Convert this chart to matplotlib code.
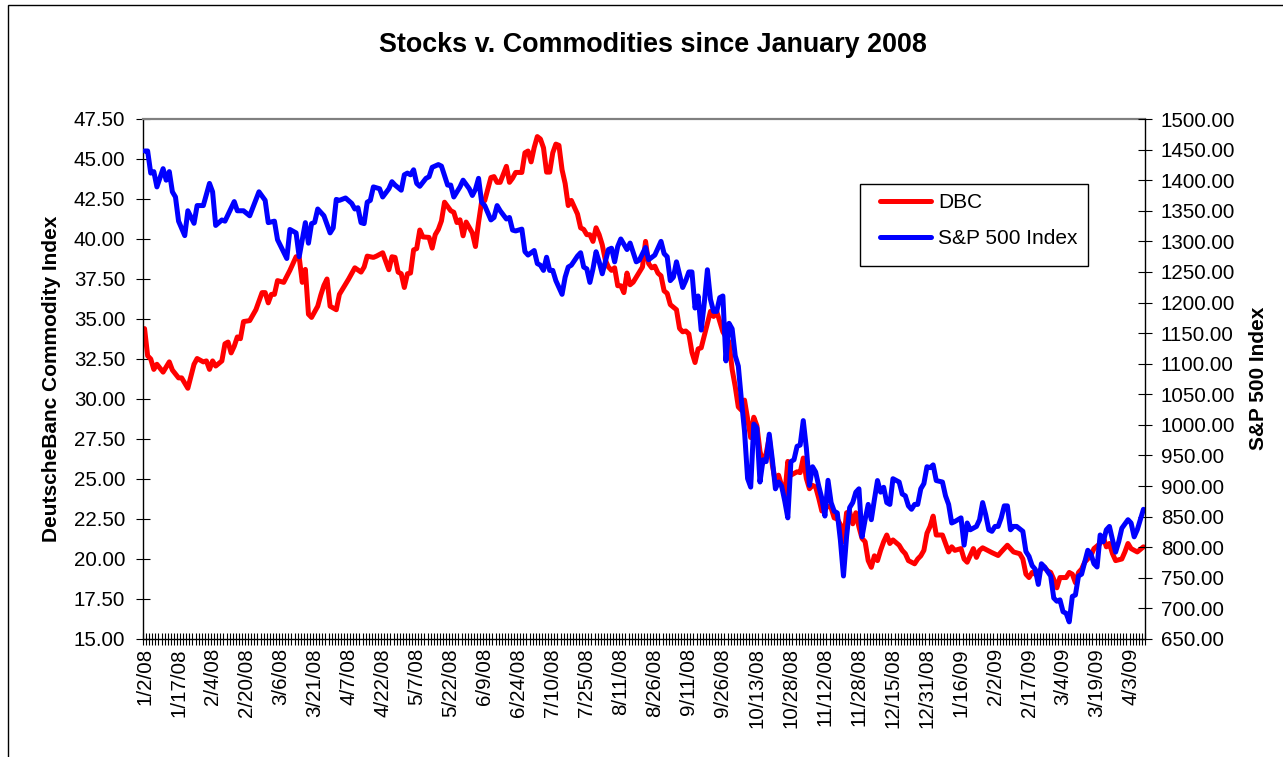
"""Stocks v. Commodities since January 2008 (DBC vs S&P 500)."""
import matplotlib
matplotlib.use("Agg")
import matplotlib.pyplot as plt
from matplotlib.lines import Line2D
from matplotlib.patches import Rectangle
from matplotlib.ticker import FormatStrFormatter
import numpy as np

plt.rcParams["font.family"] = ["Liberation Sans", "DejaVu Sans"]

TITLE = "Stocks v. Commodities since January 2008"
LEFT_LABEL = "DeutscheBanc Commodity Index"
RIGHT_LABEL = "S&P 500 Index"

N_DAYS = 324          # trading days on the category axis
LABEL_EVERY = 11      # Excel shows every 11th category label
tick_labels = [
    "1/2/08", "1/17/08", "2/4/08", "2/20/08", "3/6/08", "3/21/08", "4/7/08",
    "4/22/08", "5/7/08", "5/22/08", "6/9/08", "6/24/08", "7/10/08", "7/25/08",
    "8/11/08", "8/26/08", "9/11/08", "9/26/08", "10/13/08", "10/28/08",
    "11/12/08", "11/28/08", "12/15/08", "12/31/08", "1/16/09", "2/2/09",
    "2/17/09", "3/4/09", "3/19/09", "4/3/09",
]

# DBC close (trading day number, price)
dbc_day = [
    0, 1, 2, 3, 4, 6, 8, 9, 11, 12, 14, 16, 17, 19, 20, 21, 22, 23, 25, 26,
    27, 28, 29, 30, 31, 32, 34, 36, 38, 39, 40, 41, 42, 43, 45, 47, 49, 50,
    51, 52, 53, 54, 56, 57, 58, 59, 60, 62, 63, 64, 66, 68, 70, 71, 72, 74,
    75, 77, 79, 80, 81, 82, 83, 84, 85, 86, 87, 88, 89, 90, 92, 93, 94, 95,
    96, 97, 99, 100, 101, 102, 103, 104, 106, 107, 108, 109, 110, 112, 113,
    114, 115, 117, 118, 119, 120, 122, 123, 124, 125, 126, 127, 128, 129,
    130, 131, 132, 133, 134, 135, 136, 137, 138, 140, 141, 142, 143, 144,
    145, 146, 147, 148, 149, 150, 151, 152, 153, 154, 155, 156, 157, 158,
    160, 161, 162, 163, 164, 165, 166, 167, 168, 169, 170, 172, 173, 174,
    175, 176, 177, 178, 179, 180, 182, 183, 184, 185, 186, 187, 189, 190,
    191, 192, 193, 194, 195, 196, 197, 198, 199, 200, 201, 202, 203, 204,
    205, 206, 207, 208, 209, 211, 212, 213, 214, 215, 216, 217, 218, 219,
    221, 222, 223, 224, 225, 226, 227, 228, 229, 230, 231, 232, 233, 234,
    235, 236, 237, 238, 239, 240, 241, 242, 244, 245, 246, 247, 248, 249,
    250, 251, 252, 253, 254, 255, 256, 258, 259, 260, 261, 262, 264, 265,
    266, 268, 269, 270, 271, 272, 273, 274, 276, 277, 279, 280, 281, 283,
    284, 285, 286, 287, 288, 290, 291, 292, 293, 294, 295, 296, 298, 299,
    300, 301, 302, 303, 304, 306, 307, 309, 310, 311, 312, 313, 314, 316,
    317, 318, 319, 321, 323,
]
dbc_close = [
    34.40, 32.70, 32.50, 31.85, 32.17, 31.68, 32.32, 31.81, 31.32, 31.32,
    30.67, 32.17, 32.53, 32.32, 32.38, 31.85, 32.38, 32.06, 32.38, 33.45,
    33.56, 32.88, 33.30, 33.88, 33.77, 34.84, 34.90, 35.58, 36.65, 36.65,
    36.01, 36.54, 36.54, 37.40, 37.29, 38.04, 38.89, 38.87, 37.29, 38.10,
    35.30, 35.10, 35.80, 36.50, 37.10, 37.50, 35.80, 35.58, 36.54, 36.86,
    37.50, 38.20, 37.93, 38.25, 38.93, 38.85, 38.93, 39.14, 38.08, 38.89,
    38.85, 37.93, 37.83, 36.97, 37.83, 37.87, 39.32, 39.40, 40.56, 40.13,
    40.10, 39.43, 40.27, 40.60, 41.13, 42.30, 41.77, 41.67, 41.03, 41.20,
    40.20, 41.06, 40.38, 39.53, 41.03, 42.34, 42.40, 43.84, 43.90, 43.54,
    43.54, 44.54, 43.54, 43.80, 44.16, 44.16, 45.39, 45.50, 44.82, 45.72,
    46.40, 46.25, 45.70, 44.18, 44.18, 45.39, 45.93, 45.85, 44.33, 43.47,
    42.09, 42.41, 41.56, 40.70, 40.60, 40.27, 40.27, 39.85, 40.70, 40.27,
    39.64, 38.68, 38.25, 38.04, 38.20, 37.08, 37.08, 36.65, 37.87, 37.14,
    37.30, 37.93, 38.25, 39.85, 38.46, 38.20, 38.30, 37.87, 37.70, 36.76,
    36.60, 35.90, 35.58, 34.41, 34.20, 34.25, 34.07, 32.92, 32.28, 33.13,
    33.20, 34.73, 35.48, 35.16, 35.48, 34.84, 34.20, 33.56, 31.85, 30.78,
    29.50, 29.30, 29.93, 28.76, 27.59, 28.86, 28.33, 26.73, 25.99, 26.60,
    27.59, 25.88, 24.81, 25.24, 24.60, 23.96, 26.10, 25.24, 25.45, 25.40,
    26.31, 25.03, 24.39, 24.60, 24.50, 23.80, 23.00, 23.30, 23.20, 22.57,
    22.50, 22.15, 21.08, 22.89, 22.95, 22.20, 22.89, 22.00, 21.29, 21.08,
    19.90, 19.48, 20.20, 19.90, 20.54, 21.08, 21.50, 20.97, 21.19, 20.86,
    20.54, 20.33, 19.90, 19.80, 19.70, 20.00, 20.20, 20.54, 21.61, 22.04,
    22.68, 21.50, 21.50, 20.97, 20.44, 20.76, 20.54, 20.65, 20.00, 19.80,
    20.65, 20.10, 20.54, 20.70, 20.60, 20.50, 20.40, 20.22, 20.44, 20.86,
    20.65, 20.44, 20.33, 20.00, 19.05, 18.84, 19.16, 19.05, 19.37, 19.50,
    19.26, 19.16, 18.73, 18.20, 18.84, 18.84, 19.16, 19.05, 18.52, 19.16,
    19.37, 19.80, 20.22, 20.65, 20.97, 21.40, 20.76, 20.97, 20.33, 19.90,
    20.00, 20.44, 20.97, 20.65, 20.44, 20.76,
]

# S&P 500 close (trading day number, index level)
spx_day = [
    0, 1, 2, 3, 4, 6, 7, 8, 9, 10, 11, 13, 14, 16, 17, 19, 21, 22, 23, 25,
    26, 29, 30, 32, 34, 37, 39, 40, 42, 43, 46, 47, 49, 50, 52, 53, 54, 55,
    56, 58, 60, 61, 62, 63, 65, 67, 68, 69, 70, 71, 72, 73, 74, 76, 77, 79,
    80, 81, 83, 84, 85, 86, 87, 88, 89, 91, 92, 93, 95, 96, 98, 99, 100,
    102, 103, 105, 106, 107, 108, 109, 110, 112, 113, 114, 115, 117, 118,
    119, 120, 122, 123, 124, 126, 127, 128, 129, 130, 131, 132, 133, 135,
    136, 137, 138, 140, 141, 142, 143, 144, 145, 146, 147, 148, 150, 151,
    152, 153, 154, 156, 157, 159, 160, 162, 163, 165, 167, 168, 169, 170,
    171, 172, 174, 175, 176, 177, 178, 179, 180, 181, 182, 183, 184, 185,
    186, 187, 188, 189, 190, 191, 192, 193, 194, 195, 196, 197, 198, 199,
    200, 201, 202, 203, 204, 205, 206, 207, 208, 209, 210, 211, 212, 213,
    214, 215, 216, 217, 218, 219, 220, 221, 222, 223, 224, 225, 226, 227,
    228, 229, 230, 231, 232, 233, 234, 235, 236, 237, 238, 239, 240, 241,
    242, 244, 245, 246, 247, 248, 249, 250, 251, 252, 253, 254, 255, 256,
    258, 259, 260, 261, 262, 264, 265, 266, 267, 269, 270, 271, 272, 273,
    274, 275, 276, 277, 278, 279, 280, 281, 282, 284, 285, 286, 287, 288,
    289, 290, 291, 293, 294, 295, 296, 297, 298, 299, 300, 301, 302, 303,
    304, 305, 306, 307, 308, 309, 310, 311, 312, 313, 314, 315, 316, 318,
    319, 320, 321, 323,
]
spx_close = [
    1447.7, 1447.7, 1411.6, 1414.0, 1389.0, 1418.8, 1400.0, 1414.0, 1381.0,
    1372.5, 1333.0, 1309.4, 1350.0, 1329.5, 1358.5, 1358.5, 1394.7, 1381.0,
    1326.0, 1335.0, 1333.0, 1365.0, 1350.0, 1350.0, 1341.8, 1381.0, 1367.0,
    1330.6, 1333.0, 1302.7, 1272.0, 1319.4, 1313.8, 1274.8, 1330.6, 1297.0,
    1329.0, 1331.0, 1352.9, 1341.8, 1313.8, 1322.0, 1368.6, 1367.0, 1370.9,
    1362.0, 1352.9, 1355.0, 1330.6, 1329.0, 1364.0, 1367.0, 1389.0, 1386.0,
    1372.5, 1386.0, 1397.5, 1392.0, 1383.6, 1408.8, 1411.6, 1408.8, 1417.0,
    1394.7, 1390.0, 1403.0, 1405.6, 1421.0, 1425.5, 1423.0, 1392.0, 1392.0,
    1372.5, 1389.0, 1400.0, 1386.0, 1375.0, 1385.0, 1403.0, 1364.0, 1358.5,
    1335.0, 1339.0, 1358.5, 1350.0, 1336.6, 1339.0, 1318.4, 1317.0, 1320.0,
    1283.2, 1277.6, 1285.0, 1263.7, 1261.0, 1252.5, 1274.0, 1252.5, 1252.5,
    1235.8, 1213.4, 1241.4, 1258.0, 1261.0, 1276.0, 1281.4, 1258.0, 1255.0,
    1232.9, 1255.0, 1283.0, 1266.5, 1247.0, 1286.6, 1288.8, 1266.5, 1291.6,
    1303.9, 1286.6, 1297.2, 1266.5, 1269.4, 1290.0, 1270.0, 1277.6, 1300.0,
    1280.0, 1274.8, 1235.8, 1241.4, 1266.5, 1224.6, 1235.8, 1250.0, 1250.0,
    1191.0, 1210.7, 1155.0, 1199.7, 1253.6, 1205.0, 1185.5, 1185.5, 1208.0,
    1210.7, 1104.6, 1166.0, 1157.0, 1113.0, 1096.0, 1040.5, 990.0, 912.2,
    898.3, 1001.4, 995.0, 906.6, 943.0, 940.0, 984.8, 943.0, 895.5, 906.6,
    900.0, 875.9, 848.0, 940.0, 943.0, 965.0, 967.0, 1007.0, 962.0, 901.0,
    931.6, 923.0, 900.0, 880.0, 851.0, 909.4, 873.0, 859.0, 856.0, 811.8,
    753.0, 817.0, 864.8, 873.0, 890.0, 895.5, 817.0, 845.0, 870.0, 845.0,
    878.0, 909.0, 890.0, 898.0, 873.0, 870.0, 912.0, 906.6, 887.0, 884.0,
    867.6, 862.0, 870.0, 870.0, 895.5, 904.0, 931.6, 930.0, 934.6, 909.0,
    906.6, 884.0, 870.0, 839.6, 842.0, 848.0, 803.5, 839.6, 828.5, 834.0,
    845.0, 873.0, 853.0, 828.5, 826.0, 834.0, 834.0, 848.0, 867.6, 867.6,
    828.5, 834.0, 834.0, 826.0, 793.0, 785.0, 770.0, 764.0, 739.2, 773.0,
    767.7, 753.0, 717.0, 711.7, 714.0, 694.6, 692.0, 678.0, 719.6, 722.0,
    753.0, 756.0, 775.5, 795.0, 789.0, 773.0, 767.7, 820.0, 809.0, 828.5,
    834.0, 812.0, 792.0, 809.0, 831.0, 845.0, 839.6, 817.0, 828.5, 862.0,
]

DBC_COLOR = "#FF0000"
SPX_COLOR = "#0000FF"
LINE_W = 3.6

W, H = 1283, 757
PLOT_L, PLOT_T, PLOT_R, PLOT_B = 143, 119, 1145, 639


def fig_box(left, top, right, bottom):
    return [left / W, 1 - bottom / H, (right - left) / W, (bottom - top) / H]


def ax_xy(px, py):
    return ((px - PLOT_L) / (PLOT_R - PLOT_L), (PLOT_B - py) / (PLOT_B - PLOT_T))


fig = plt.figure(figsize=(W / 100, H / 100), dpi=100)
fig.patch.set_facecolor("white")

# outer chart-area border (Excel style), only left and top edges visible
fig.patches.append(Rectangle((8 / W, -0.1), 2.0, 1 - 5 / H + 0.1,
                             transform=fig.transFigure, fill=False,
                             edgecolor="black", linewidth=1.0))

ax = fig.add_axes(fig_box(PLOT_L, PLOT_T, PLOT_R, PLOT_B))
ax2 = ax.twinx()

ax.plot(dbc_day, dbc_close, color=DBC_COLOR, lw=LINE_W,
        solid_joinstyle="round", solid_capstyle="round")
ax2.plot(spx_day, spx_close, color=SPX_COLOR, lw=LINE_W,
         solid_joinstyle="round", solid_capstyle="round")

# x: category axis
ax.set_xlim(-0.5, N_DAYS - 0.5)
label_pos = list(range(0, N_DAYS, LABEL_EVERY))[:len(tick_labels)]
ax.set_xticks(label_pos)
ax.set_xticklabels(tick_labels, rotation=90, ha="center", va="top")
ax.set_xticks(np.arange(-0.5, N_DAYS, 1.0), minor=True)
ax.tick_params(axis="x", which="major", length=0, pad=6.5, labelsize=14.8)
ax.tick_params(axis="x", which="minor", direction="inout", length=9,
               width=0.8, color="black")

# y axes
ax.set_ylim(15, 47.5)
ax.set_yticks(np.arange(15, 47.51, 2.5))
ax.yaxis.set_major_formatter(FormatStrFormatter("%.2f"))
ax.tick_params(axis="y", direction="inout", length=9.4, width=0.8,
               pad=8.0, labelsize=14.8)

ax2.set_ylim(650, 1500)
ax2.set_yticks(np.arange(650, 1500.1, 50))
ax2.yaxis.set_major_formatter(FormatStrFormatter("%.2f"))
ax2.tick_params(axis="y", direction="inout", length=9.4, width=0.8,
                pad=6.8, labelsize=14.8)

for name, sp in ax.spines.items():
    sp.set_color("black")
    sp.set_linewidth(1.0)
ax.spines["right"].set_visible(False)
ax.spines["top"].set_color("#808080")
ax.spines["top"].set_linewidth(1.6)
for name in ("left", "top", "bottom"):
    ax2.spines[name].set_visible(False)
ax2.spines["right"].set_color("black")
ax2.spines["right"].set_linewidth(1.0)

# legend: frame drawn separately so its padding matches the original
x0, y0 = ax_xy(860, 266)
x1, y1 = ax_xy(1088, 184)
ax2.add_patch(Rectangle((x0, y0), x1 - x0, y1 - y0, transform=ax2.transAxes,
                        facecolor="white", edgecolor="black", linewidth=1.0,
                        zorder=5))
handles = [
    Line2D([], [], color=DBC_COLOR, lw=LINE_W, solid_capstyle="round"),
    Line2D([], [], color=SPX_COLOR, lw=LINE_W, solid_capstyle="round"),
]
leg = ax2.legend(handles, ["DBC", "S&P 500 Index"], loc="upper left",
                 bbox_to_anchor=ax_xy(880, 193), frameon=False,
                 borderpad=0, borderaxespad=0, handlelength=2.45,
                 handletextpad=0.34, labelspacing=0.82, fontsize=15)
leg.set_zorder(6)

fig.text(653 / W, 1 - 45 / H, TITLE, ha="center", va="center",
         fontsize=19.4, fontweight="bold")
fig.text(52 / W, 1 - 379 / H, LEFT_LABEL, ha="center", va="center",
         rotation=90, fontsize=15, fontweight="bold")
fig.text(1258 / W, 1 - 378 / H, RIGHT_LABEL, ha="center", va="center",
         rotation=90, fontsize=15, fontweight="bold")

fig.savefig("out.png", dpi=100)
plt.close(fig)
